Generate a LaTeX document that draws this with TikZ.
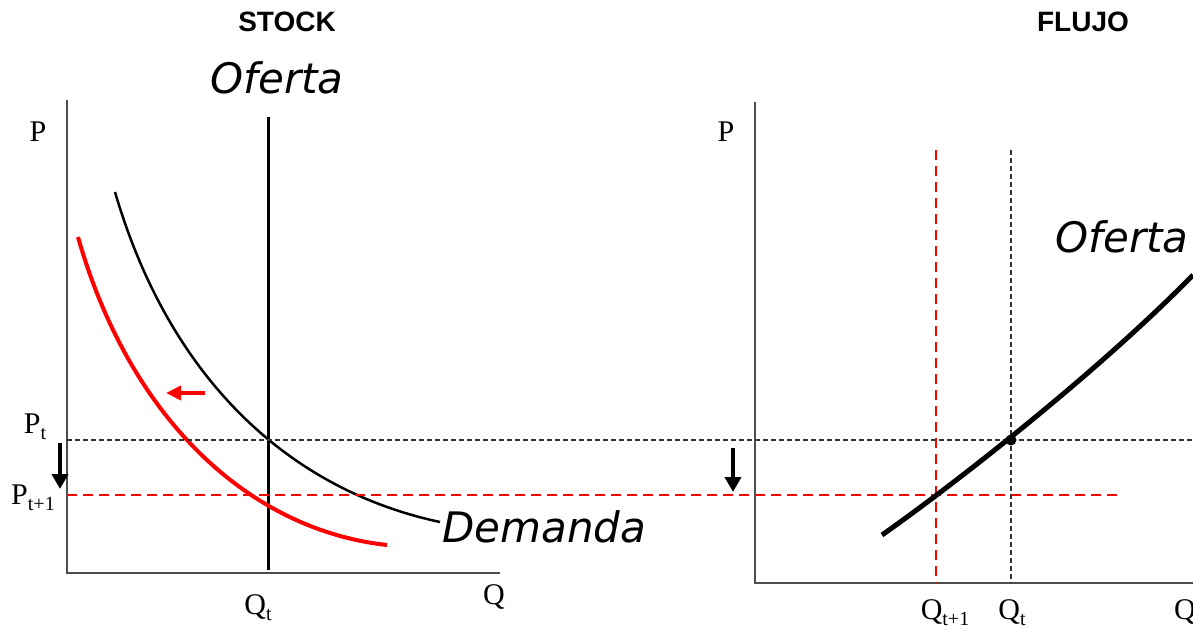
\documentclass[tikz,border=0pt]{standalone}
\usepackage{fontspec}
\setmainfont{Liberation Serif}
\newfontfamily\titlefont{Liberation Sans}
\newfontfamily\curvefont{DejaVu Sans}
\usetikzlibrary{arrows.meta}
\newcommand{\lbl}[2]{#1\raisebox{-6pt}{\fontsize{20}{20}\selectfont #2}}

\begin{document}
\begin{tikzpicture}[x=1pt,y=-1pt,>=Stealth]
\tikzstyle{axis}=[draw=black!70,line width=1.6pt]
\tikzstyle{title}=[font=\titlefont\bfseries\fontsize{28}{28}\selectfont]
\tikzstyle{curvelbl}=[font=\curvefont\itshape\fontsize{42}{42}\selectfont,inner sep=0pt]
\tikzstyle{varlbl}=[font=\fontsize{30}{30}\selectfont,inner sep=0pt]
\tikzstyle{guide}=[dash pattern=on 5pt off 3pt,line width=1.1pt,black!80]
\tikzstyle{redguide}=[dash pattern=on 10pt off 6pt,line width=2.2pt,red]
\tikzstyle{drop}=[-{Triangle[length=15pt,width=16pt]},line width=4.5pt]
\useasboundingbox (0,0) rectangle (1193,628);

% stock panel
\coordinate (Y1) at (67,100);
\coordinate (O1) at (67,573);
\coordinate (X1) at (500,573);
\draw[axis] (Y1) -- (O1) -- (X1);
\node[title] (stock) at (287,22) {STOCK};
\node[curvelbl] (ofS) at (277,78) {Oferta};
\node[varlbl] (P1) at (38,132) {P};
\node[varlbl] (Q1) at (494,597) {Q};
\node[varlbl] (Qs) at (258,608) {\lbl{Q}{t}};
\node[varlbl] (Pt) at (35,427) {\lbl{P}{t}};
\node[varlbl] (Pt1) at (33,498) {\lbl{P}{t+1}};

\coordinate (sTop) at (268,117);
\coordinate (sBot) at (268,570);
\draw[line width=3pt] (sTop) -- (sBot);
\draw[line width=2.5pt] (115,192) .. controls (170,380) and (290,490) .. (440,522);
\draw[red,line width=4pt] (78,237) .. controls (130,420) and (250,530) .. (387,545);
\node[curvelbl,anchor=west] (dem) at (442,527) {Demanda};

\coordinate (shA) at (205,393);
\coordinate (shB) at (166,393);
\draw[red,line width=4pt,-{Triangle[length=15pt,width=14pt]}] (shA) -- (shB);

% price levels
\coordinate (ptL) at (67,440);
\coordinate (ptR) at (1193,440);
\coordinate (pnL) at (67,495);
\coordinate (pnR) at (1117,495);
\draw[guide] (ptL) -- (ptR);
\draw[redguide] (pnL) -- (pnR);
\coordinate (d1a) at (60,443);
\coordinate (d1b) at (60,489);
\coordinate (d2a) at (733,448);
\coordinate (d2b) at (733,492);
\draw[drop] (d1a) -- (d1b);
\draw[drop] (d2a) -- (d2b);

% flow panel
\coordinate (Y2) at (755,102);
\coordinate (O2) at (755,583);
\coordinate (X2) at (1193,583);
\draw[axis] (Y2) -- (O2) -- (X2);
\node[title] (flujo) at (1083,22) {FLUJO};
\node[varlbl] (P2) at (726,132) {P};
\node[varlbl] (Q2) at (1185,612) {Q};
\node[varlbl] (Qf1) at (945,613) {\lbl{Q}{t+1}};
\node[varlbl] (Qf) at (1012,613) {\lbl{Q}{t}};

\coordinate (vnT) at (936,150);
\coordinate (vnB) at (936,583);
\coordinate (vtT) at (1011,150);
\coordinate (vtB) at (1011,583);
\draw[redguide] (vnT) -- (vnB);
\draw[guide] (vtT) -- (vtB);
\draw[line width=5pt] (882,535) .. controls (960,480) and (1100,370) .. (1193,275);
\node[circle,fill,inner sep=0pt,minimum size=11pt] (eq) at (1011,440) {};
\node[curvelbl] (ofF) at (1122,237) {Oferta};
\end{tikzpicture}
\end{document}
